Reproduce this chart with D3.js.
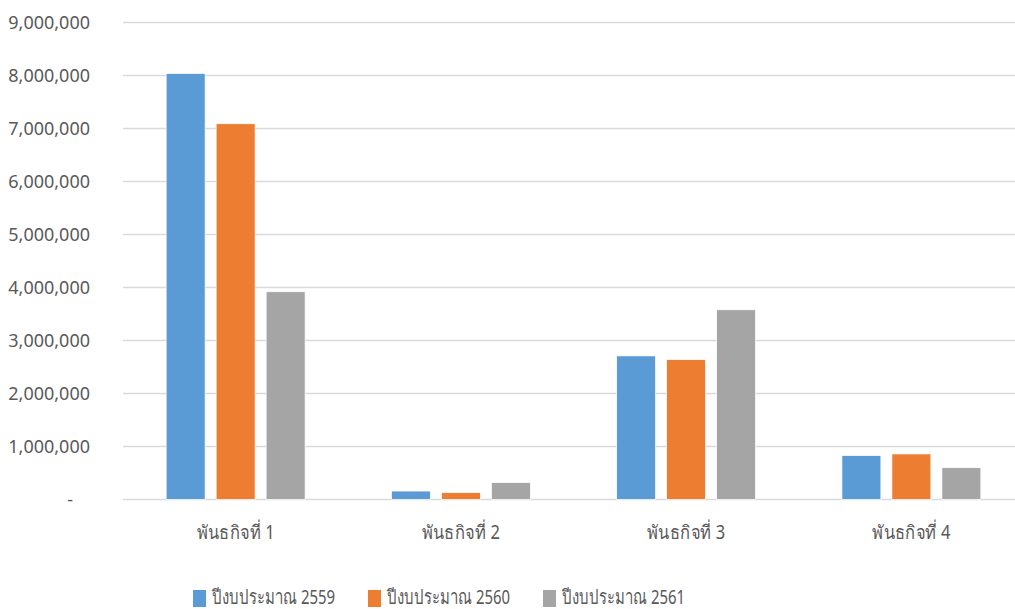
<!DOCTYPE html>
<html>
<head>
<meta charset="utf-8">
<script src="https://cdn.jsdelivr.net/npm/d3@7/dist/d3.min.js"></script>
<style>
  html, body { margin: 0; padding: 0; background: #fff; }
  svg { display: block; }
  text { font-family: "Noto Sans", "DejaVu Sans", "Liberation Sans", sans-serif; fill: #595959; }
</style>
</head>
<body>
<svg id="chart" width="1015" height="609"></svg>
<script>
const categories = ["พันธกิจที่ 1", "พันธกิจที่ 2", "พันธกิจที่ 3", "พันธกิจที่ 4"];
const seriesNames = ["ปีงบประมาณ 2559", "ปีงบประมาณ 2560", "ปีงบประมาณ 2561"];
const values2559 = [8040000, 160000, 2710000, 830000];
const values2560 = [7090000, 130000, 2640000, 860000];
const values2561 = [3920000, 320000, 3580000, 600000];
const yTicks = [0, 1000000, 2000000, 3000000, 4000000, 5000000, 6000000, 7000000, 8000000, 9000000];
const colors = ["#5B9BD5", "#ED7D31", "#A5A5A5"];

const series = [values2559, values2560, values2561];
const svg = d3.select("#chart");

const mLeft = 123, mRight = 1024, mTop = 22.5, mBottom = 499.5;

const x0 = d3.scaleBand().domain(categories).range([mLeft, mRight])
  .paddingInner(0.383).paddingOuter(0.1915);
const x1 = d3.scaleBand().domain(d3.range(series.length)).range([0, x0.bandwidth()])
  .paddingInner(0.22).paddingOuter(0);
const y = d3.scaleLinear().domain([0, 9000000]).range([mBottom, mTop]);

// gridlines
svg.append("g")
  .selectAll("line").data(yTicks).join("line")
  .attr("x1", mLeft).attr("x2", mRight)
  .attr("y1", d => y(d)).attr("y2", d => y(d))
  .attr("stroke", "#D9D9D9").attr("stroke-width", 1.5);

// y axis labels
const yAxis = d3.axisLeft(y).tickValues(yTicks).tickSize(0).tickPadding(0)
  .tickFormat(d => d === 0 ? "-" : d3.format(",")(d));
const yg = svg.append("g").attr("transform", `translate(90,0)`).call(yAxis);
yg.select(".domain").remove();
yg.selectAll("text")
  .style("font-size", "18px").attr("fill", "#595959")
  .attr("x", d => d === 0 ? -17 : 0);

// bars
const groups = svg.append("g").selectAll("g").data(categories).join("g")
  .attr("transform", c => `translate(${x0(c)},0)`);
groups.selectAll("rect")
  .data((c, i) => series.map((s, k) => ({k, v: s[i]})))
  .join("rect")
  .attr("x", d => x1(d.k))
  .attr("width", x1.bandwidth())
  .attr("y", d => y(d.v))
  .attr("height", d => y(0) - y(d.v))
  .attr("fill", d => colors[d.k])
  .attr("stroke", "#ffffff").attr("stroke-width", 0.75);

// x axis labels
const xAxis = d3.axisBottom(x0).tickSize(0).tickPadding(0);
const xg = svg.append("g").attr("transform", `translate(0,${mBottom + 39})`).call(xAxis);
xg.select(".domain").remove();
xg.selectAll("text").style("font-size", "19px").attr("dy", 0).attr("fill", "#595959")
  .attr("textLength", 78).attr("lengthAdjust", "spacingAndGlyphs");

// legend
const legendX = [193, 368, 543];
const lg = svg.append("g").selectAll("g").data(seriesNames).join("g")
  .attr("transform", (d, i) => `translate(${legendX[i]},590)`);
lg.append("rect").attr("width", 13).attr("height", 17).attr("fill", (d, i) => colors[i]);
lg.append("text").attr("x", 19).attr("y", 14)
  .style("font-size", "20px").attr("fill", "#595959")
  .attr("textLength", 123).attr("lengthAdjust", "spacingAndGlyphs")
  .text(d => d);
</script>
</body>
</html>
